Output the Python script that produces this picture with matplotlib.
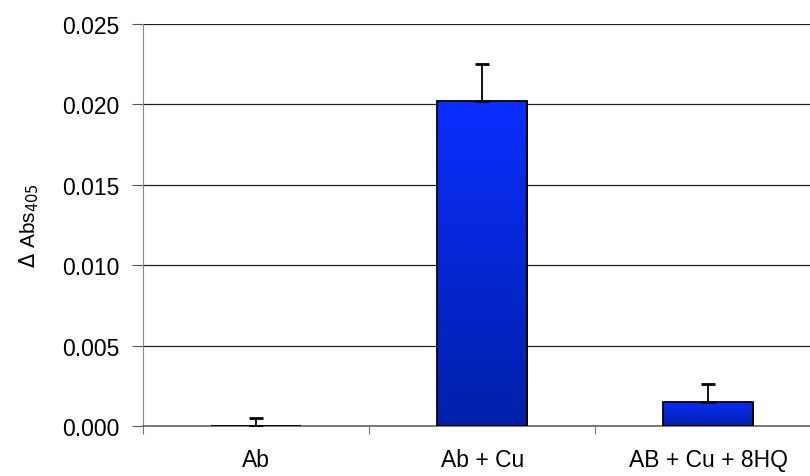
import numpy as np
import matplotlib.pyplot as plt
from matplotlib.colors import LinearSegmentedColormap

plt.rcParams['font.family'] = ['Liberation Sans', 'DejaVu Sans']

# data
categories = ['Ab', 'Ab + Cu', 'AB + Cu + 8HQ']
values = [0.00002, 0.0202, 0.0015]
errors = [0.0005, 0.0023, 0.0011]
yticks = [0.000, 0.005, 0.010, 0.015, 0.020, 0.025]

fig = plt.figure(figsize=(8.1, 4.77), dpi=100)
ax = fig.add_axes([143 / 810, 1 - 427 / 477, 1 - 143 / 810, 402 / 477])

x = np.arange(len(categories))
bars = ax.bar(x, values, width=0.40, color='none', edgecolor='black',
              linewidth=1.3, zorder=3)

# blue vertical gradient inside each bar
cmap = LinearSegmentedColormap.from_list('bl', ['#0020a8', '#0a2eff'])
grad = np.linspace(0, 1, 256).reshape(-1, 1)
for b in bars:
    if b.get_height() <= 0.0001:
        continue
    im = ax.imshow(grad, cmap=cmap, origin='lower', aspect='auto',
                   extent=[b.get_x(), b.get_x() + b.get_width(), 0, b.get_height()],
                   zorder=2)
    im.set_clip_path(b)

ax.errorbar(x, values, yerr=[[0] * len(x), errors], fmt='none', ecolor='black',
            elinewidth=1.3, capsize=5, capthick=2, zorder=4)

ax.set_xlim(-0.5, 2.45)
ax.set_ylim(0, 0.025)
ax.set_yticks(yticks)
ax.set_yticklabels([f'{v:.3f}' for v in yticks])
ax.yaxis.grid(True, color='#222222', linewidth=0.9, zorder=0)
ax.set_axisbelow(True)

# category boundaries as ticks, labels at centers
ax.set_xticks([-0.5, 0.5, 1.5])
ax.set_xticklabels([])
ax.set_xticks(x, minor=True)
ax.set_xticklabels(categories, minor=True)
ax.tick_params(axis='x', which='major', length=6, color='#777777', direction='out')
ax.tick_params(axis='x', which='minor', length=0, pad=16, labelsize=16.5)
ax.tick_params(axis='y', length=8, color='#555555', pad=9, labelsize=16.5)

for s in ['top', 'right']:
    ax.spines[s].set_visible(False)
ax.spines['left'].set_color('#888888')
ax.spines['bottom'].set_color('#666666')
ax.spines['bottom'].set_linewidth(1.2)

ax.set_ylabel(r'$\Delta$ Abs$_{405}$', fontsize=15, labelpad=15)

fig.savefig('out.png', dpi=100)
